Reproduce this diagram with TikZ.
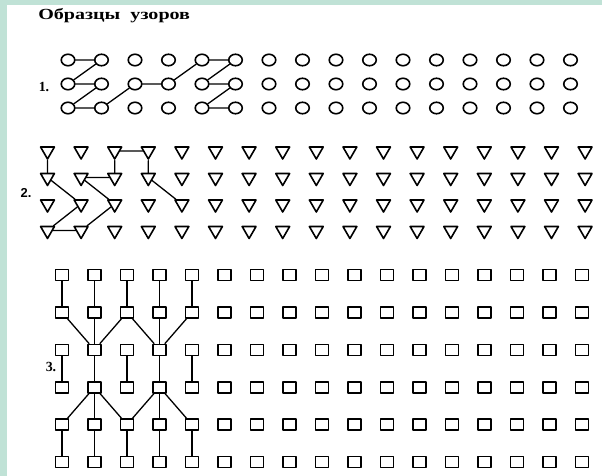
\documentclass[tikz,border=0pt]{standalone}
\usepackage{fontspec}
\setmainfont{Liberation Serif}
\setsansfont{Liberation Sans}
\usetikzlibrary{shapes.geometric}
\definecolor{mint}{RGB}{192,226,214}

\begin{document}
\begin{tikzpicture}[
  x=1bp,
  y=-1bp,
  line join=round,
  line cap=round,
  link/.style={draw=black,line width=1.3bp},
  ring/.style={draw=black,line width=1.6bp,ellipse,minimum width=13.5bp,minimum height=11.5bp,inner sep=0pt,fill=white},
  tri/.style={draw=black,line width=1.6bp,regular polygon,regular polygon sides=3,shape border rotate=180,minimum size=16bp,inner sep=0pt,fill=white},
  box/.style={draw=black,line width=1.6bp,rectangle,minimum width=13bp,minimum height=11bp,inner sep=0pt,fill=white},
  num/.style={font=\bfseries\fontsize{14}{16}\selectfont,inner sep=0pt}
]
  % Page with mint strips on top and left.
  \useasboundingbox (0,0) rectangle (602,476);
  \fill[mint] (0,0) rectangle (602,476);
  \fill[white] (7,5) rectangle (602,476);

  \node[font=\bfseries\fontsize{15.5}{17}\selectfont,anchor=west,inner sep=0pt,xscale=1.3] (title) at (38,16) {Образцы\ \ узоров};

  % Pattern 1: rings, 16 columns x 3 rows.
  \foreach \i in {0,...,15} {
    \foreach \j in {0,1,2} {
      \node[ring] (r-\i-\j) at (68+33.5*\i,60+24*\j) {};
    }
  }
  \draw[link] (r-0-0) -- (r-1-0) -- (r-0-1) -- (r-1-1) -- (r-0-2) -- (r-1-2)
    -- (r-2-1) -- (r-3-1) -- (r-4-0) -- (r-5-0) -- (r-4-1) -- (r-5-1)
    -- (r-4-2) -- (r-5-2);
  \node[num] (n1) at (44,87) {1.};

  % Pattern 2: triangles, 17 columns x 4 rows.
  \foreach \i in {0,...,16} {
    \foreach \j in {0,...,3} {
      \node[tri] (t-\i-\j) at (47.5+33.6*\i,151+26.5*\j) {};
    }
  }
  \draw[link] (t-0-0) -- (t-0-1) -- (t-1-2) -- (t-0-3) -- (t-1-3) -- (t-2-2)
    -- (t-1-1) -- (t-2-1) -- (t-2-0) -- (t-3-0) -- (t-3-1) -- (t-4-2);
  \node[num,font=\sffamily\bfseries\fontsize{13}{15}\selectfont] (n2) at (26,193) {2.};

  % Pattern 3: boxes, 17 columns x 6 rows.
  \foreach \i in {0,...,16} {
    \foreach \j in {0,...,5} {
      \node[box] (s-\i-\j) at (62+32.5*\i,275+37.4*\j) {};
    }
  }
  \foreach \c in {0,...,4} {
    \draw[link] (s-\c-0) -- (s-\c-1);
    \draw[link] (s-\c-2) -- (s-\c-3);
    \draw[link] (s-\c-4) -- (s-\c-5);
  }
  \foreach \h/\l/\r in {1/0/2,3/2/4} {
    \draw[link] (s-\l-1) -- (s-\h-2) -- (s-\r-1);
    \draw[link] (s-\h-1) -- (s-\h-2);
    \draw[link] (s-\l-4) -- (s-\h-3) -- (s-\r-4);
    \draw[link] (s-\h-3) -- (s-\h-4);
  }
  \node[num] (n3) at (51,367) {3.};
\end{tikzpicture}
\end{document}
